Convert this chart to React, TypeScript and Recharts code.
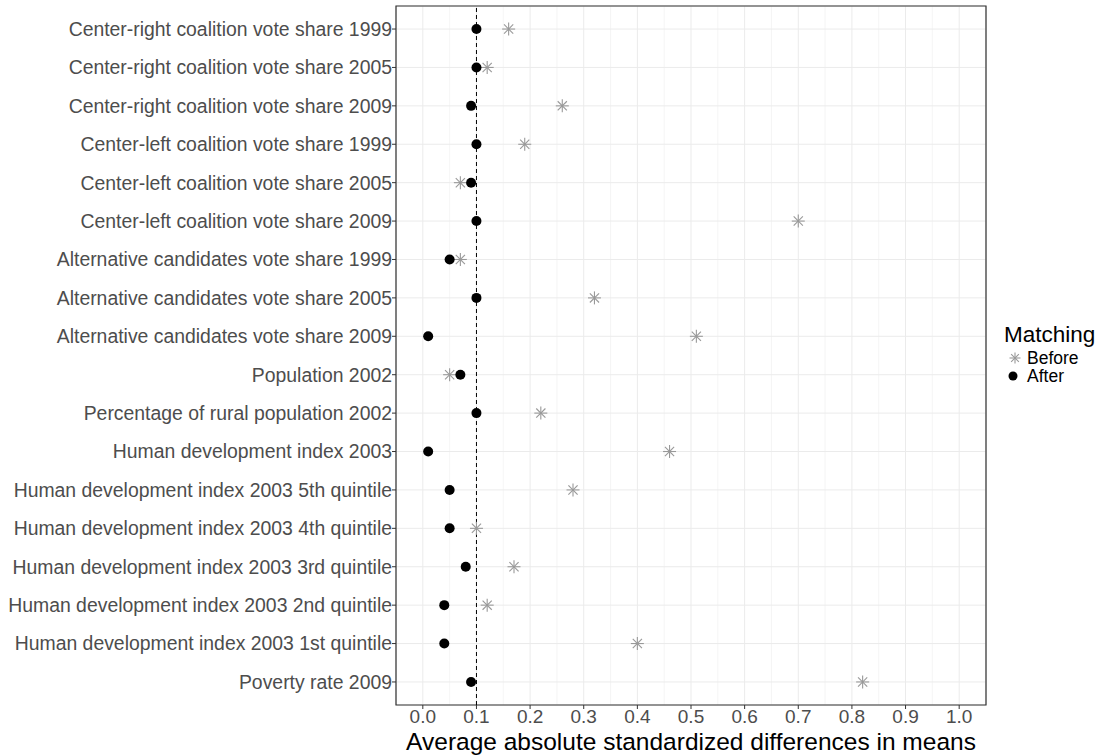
import { ScatterChart, Scatter, XAxis, YAxis, CartesianGrid, ReferenceLine, ReferenceArea } from 'recharts'

const categories = [
  'Center-right coalition vote share 1999',
  'Center-right coalition vote share 2005',
  'Center-right coalition vote share 2009',
  'Center-left coalition vote share 1999',
  'Center-left coalition vote share 2005',
  'Center-left coalition vote share 2009',
  'Alternative candidates vote share 1999',
  'Alternative candidates vote share 2005',
  'Alternative candidates vote share 2009',
  'Population 2002',
  'Percentage of rural population 2002',
  'Human development index 2003',
  'Human development index 2003 5th quintile',
  'Human development index 2003 4th quintile',
  'Human development index 2003 3rd quintile',
  'Human development index 2003 2nd quintile',
  'Human development index 2003 1st quintile',
  'Poverty rate 2009',
]

const beforeValues = [0.16, 0.12, 0.26, 0.19, 0.07, 0.7, 0.07, 0.32, 0.51, 0.05, 0.22, 0.46, 0.28, 0.1, 0.17, 0.12, 0.4, 0.82]
const afterValues = [0.1, 0.1, 0.09, 0.1, 0.09, 0.1, 0.05, 0.1, 0.01, 0.07, 0.1, 0.01, 0.05, 0.05, 0.08, 0.04, 0.04, 0.09]

const xTicks = [0, 0.1, 0.2, 0.3, 0.4, 0.5, 0.6, 0.7, 0.8, 0.9, 1.0]
const xMinorTicks = [0.05, 0.15, 0.25, 0.35, 0.45, 0.55, 0.65, 0.75, 0.85, 0.95]
const threshold = 0.1
const xTitle = 'Average absolute standardized differences in means'

const beforeData = categories.map((name, i) => ({ row: i, value: beforeValues[i], name }))
const afterData = categories.map((name, i) => ({ row: i, value: afterValues[i], name }))
const rowTicks = categories.map((_, i) => i)

const GREY = '#999999'
const font = 'Liberation Sans, Arial, Helvetica, sans-serif'

function Star(props: any) {
  const { cx, cy, r = 6.5 } = props
  const d = r * 0.7071
  return (
    <g stroke={GREY} strokeWidth={1.1}>
      <line x1={cx - r} y1={cy} x2={cx + r} y2={cy} />
      <line x1={cx} y1={cy - r} x2={cx} y2={cy + r} />
      <line x1={cx - d} y1={cy - d} x2={cx + d} y2={cy + d} />
      <line x1={cx - d} y1={cy + d} x2={cx + d} y2={cy - d} />
    </g>
  )
}

function Dot(props: any) {
  const { cx, cy, r = 5 } = props
  return <circle cx={cx} cy={cy} r={r} fill="#000" />
}

function XTitle(props: any) {
  const vb = props.viewBox || {}
  return (
    <text x={vb.x + vb.width / 2} y={vb.y + 45} textAnchor="middle" fontSize={24.5} fill="#000" fontFamily={font}>
      {xTitle}
    </text>
  )
}

export default function App() {
  return (
    <div style={{ position: 'absolute', left: 0, top: 0, width: 1105, height: 756, background: '#fff', fontFamily: font }}>
      <ScatterChart width={1105} height={756} margin={{ top: 6, right: 119, bottom: 0, left: 0 }}>
        <CartesianGrid xAxisId="minor" yAxisId="rows" horizontal={false} stroke="#F0F0F0" strokeWidth={0.7} />
        <CartesianGrid xAxisId="main" yAxisId="rows" stroke="#EBEBEB" strokeWidth={1} />
        <XAxis
          xAxisId="minor"
          type="number"
          dataKey="value"
          domain={[-0.05, 1.05]}
          ticks={xMinorTicks}
          allowDataOverflow
          hide
        />
        <XAxis
          xAxisId="main"
          type="number"
          dataKey="value"
          domain={[-0.05, 1.05]}
          ticks={xTicks}
          interval={0}
          allowDataOverflow
          height={51}
          tickFormatter={(v: number) => v.toFixed(1)}
          tick={{ fill: '#4D4D4D', fontSize: 19, fontFamily: font }}
          tickLine={{ stroke: '#333' }}
          tickSize={4}
          tickMargin={1}
          axisLine={false}
          label={<XTitle />}
        />
        <YAxis
          yAxisId="rows"
          type="number"
          dataKey="row"
          domain={[-0.6, 17.6]}
          reversed
          ticks={rowTicks}
          interval={0}
          allowDataOverflow
          width={396}
          tickFormatter={(i: number) => categories[i]}
          tick={{ fill: '#4D4D4D', fontSize: 19.4, fontFamily: font }}
          tickLine={{ stroke: '#333' }}
          tickSize={4}
          tickMargin={0}
          axisLine={false}
        />
        <ReferenceLine xAxisId="main" yAxisId="rows" x={threshold} stroke="#000" strokeDasharray="4 3" strokeWidth={1} />
        <Scatter xAxisId="main" yAxisId="rows" name="Before" data={beforeData} shape={Star} isAnimationActive={false} />
        <Scatter xAxisId="main" yAxisId="rows" name="After" data={afterData} shape={Dot} isAnimationActive={false} />
        <ReferenceArea xAxisId="main" yAxisId="rows" x1={-0.05} x2={1.05} y1={-0.6} y2={17.6} fill="none" stroke="#333" strokeWidth={1.2} />
      </ScatterChart>
      <svg style={{ position: 'absolute', left: 995, top: 320 }} width={110} height={70}>
        <text x={9} y={22} fontSize={22.5} fill="#000" fontFamily={font}>Matching</text>
        <Star cx={20} cy={38} r={5.5} />
        <text x={32} y={43.5} fontSize={17.5} fill="#000" fontFamily={font}>Before</text>
        <Dot cx={18} cy={56} r={4.5} />
        <text x={32} y={61.5} fontSize={17.5} fill="#000" fontFamily={font}>After</text>
      </svg>
    </div>
  )
}
